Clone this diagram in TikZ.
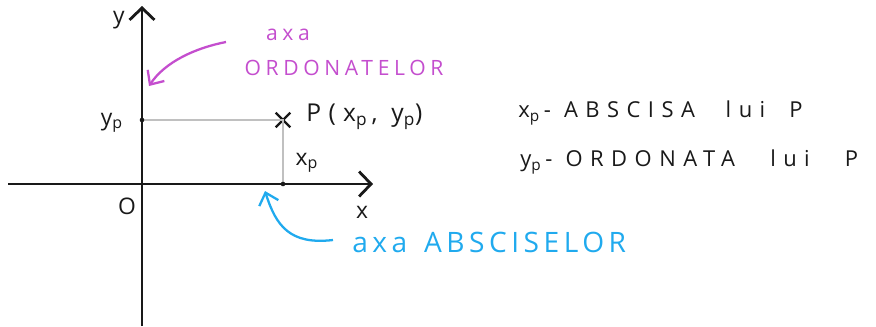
\documentclass[tikz,border=0pt]{standalone}
\usepackage{fontspec}
\setmainfont{Open Sans}
\usetikzlibrary{arrows.meta,positioning,shapes.misc}
\definecolor{ordStroke}{RGB}{196,78,206}
\definecolor{absStroke}{RGB}{32,170,238}
\definecolor{guideGray}{RGB}{192,192,192}
\colorlet{ink}{black!90}
\tikzset{
  axis/.style={-{Straight Barb[length=2.4mm,width=5mm]}, draw=ink, line width=1.6pt},
  guide/.style={draw=guideGray, line width=1.6pt},
  pointer/.style={-{Straight Barb[length=2.2mm,width=4mm]}, line width=1.3pt},
  lbl/.style={font=\fontsize{13}{15}\selectfont, text=ink, inner sep=0pt},
  ordtext/.style={font=\fontsize{12}{14}\selectfont\addfontfeature{LetterSpace=22}, text=ordStroke, inner sep=0pt},
  abstext/.style={font=\fontsize{16}{18}\selectfont\addfontfeature{LetterSpace=16}, text=absStroke, inner sep=0pt},
  defn/.style={font=\fontsize{12.5}{14}\selectfont\addfontfeature{LetterSpace=34}, text=ink, inner sep=0pt, anchor=west}
}

\begin{document}
\begin{tikzpicture}[x=0.02cm,y=-0.02cm]
  \useasboundingbox (0,0) rectangle (876,326);

  % axes
  \coordinate (O) at (142,184);
  \coordinate (xstart) at (8,184);
  \coordinate (xend) at (373,184);
  \coordinate (ystart) at (142,326);
  \coordinate (yend) at (142,6);
  \draw[axis] (xstart) -- (xend);
  \draw[axis] (ystart) -- (yend);

  \node[lbl] (ylabel) at (119,20) {y};
  \node[lbl] (xlabel) at (362,212) {x};
  \node[lbl] (origin) at (127,206) {O};

  % point P and its projections
  \node[cross out, draw=ink, line width=1.3pt, minimum size=7pt, inner sep=0pt] (P) at (283,120) {};
  \coordinate (yp) at (142,120);
  \coordinate (xp) at (283,184);
  \draw[guide] (yp) -- (P.center) -- (xp);
  \fill[ink] (yp) circle (1.3pt) (xp) circle (1.3pt);

  \node[lbl] (yplabel) at (112,123) {y\textsubscript{p}};
  \node[lbl] (xplabel) at (307,163) {x\textsubscript{p}};
  \node[lbl, font=\fontsize{14}{16}\selectfont\addfontfeature{LetterSpace=30}, anchor=west] (Plabel) at (306,117) {P(x\textsubscript{p}\,, y\textsubscript{p})};

  % labels of the axes
  \node[ordtext] (ordaxa) at (288,35) {axa};
  \node[ordtext] (ordname) at (344,68) {ORDONATELOR};
  \coordinate (ordfrom) at (226,42);
  \draw[pointer, draw=ordStroke] (ordfrom) .. controls (195,48) and (165,62) .. (149,86);

  \node[abstext, anchor=west] (absname) at (352,242) {axa\hspace{0.6em}ABSCISELOR};
  \coordinate (absfrom) at (333,240);
  \draw[pointer, draw=absStroke] (absfrom) .. controls (290,245) and (276,226) .. (265,191);

  % definitions
  \node[defn] (defx) at (518,113) {x\textsubscript{p}\,- ABSCISA\hspace{1.4em}lui\hspace{1.1em}P};
  \node[defn] (defy) at (520,162) {y\textsubscript{p}\,- ORDONATA\hspace{1.6em}lui\hspace{1.6em}P};
\end{tikzpicture}
\end{document}
